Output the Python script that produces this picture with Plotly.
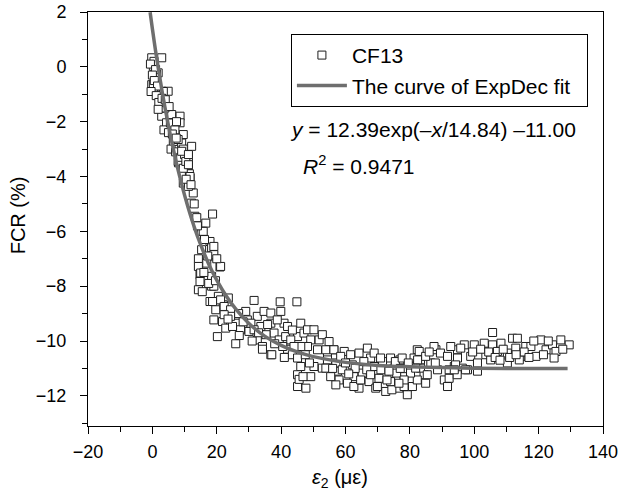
import plotly.graph_objects as go

# ---- CF13 measured points (strain in micro-strain, FCR in %) ----
strain_a = [-0.2, 2.9, 0.3, 1.8, 1.3, -0.2, 0.8, 2.9, 4.9, 2.4, 3.4, 4.4, 2.9, 6.0, 8.6, 4.4, 8.6, 9.6, 6.5, 9.1,
            12.2, 8.1, 11.2, 11.2, 1.3, 0.3, 3.4, 3.9, 6.5, 8.0, 9.6, 11.2, 8.0, 11.2, 11.5, 0.5, -0.6, 1.0, 0.0, 0.6,
            1.6, -0.4, 1.2, 2.0, 3.0, 1.8, 4.0, 5.2, 3.6, 5.0, 5.6, 7.0, 7.5, 6.2, 7.4, 5.8, 7.2, 8.8, 10.0, 9.6, 10.4]
fcr_a = [0.33, 0.33, 0.02, -0.22, -0.46, -0.65, -0.89, -0.89, -0.89, -1.13, -1.44, -1.56, -1.8, -1.74, -1.8, -2.04, -2.04, -2.47, -2.72, -2.78,
         -2.9, -3.5, -3.5, -3.26, -0.26, -0.65, -0.9, -1.5, -2.1, -2.65, -3.0, -3.3, -3.45, -3.6, -3.9, 0.2, 0.1, -0.1, -0.3, -0.5,
         -0.7, -0.9, -1.05, -1.3, -1.15, -1.55, -1.2, -1.45, -2.3, -2.4, -2.05, -2.3, -2.0, -2.45, -2.6, -3.0, -3.1, -3.3, -3.2, -3.7, -3.45]

strain_b = [9.1, 11.2, 11.2, 11.7, 9.6, 12.7, 11.7, 11.2, 12.2, 18.7, 13.2, 16.6, 15.3, 17.9, 18.4, 15.3, 18.9, 14.3, 14.3, 16.9,
            21.0, 14.8, 18.4, 14.8, 14.3, 18.4, 20.5, 23.6, 17.9, 22.0, 13.8, 15.8, 19.1, 19.1, 21.2, 15.0, 19.1, 18.7, 21.2, 10.5,
            12.0, 13.0, 14.0, 16.2, 17.2, 16.0, 17.5, 15.5, 19.6, 20.0]
fcr_b = [-3.08, -3.2, -3.57, -4.05, -4.24, -4.6, -4.0, -4.36, -4.97, -5.37, -5.45, -5.7, -6.0, -6.37, -6.6, -6.67, -6.9, -7.0, -7.28, -7.16,
         -7.3, -7.58, -7.64, -7.83, -8.13, -8.0, -8.37, -8.43, -8.56, -8.68, -5.5, -6.0, -6.55, -6.85, -7.28, -7.52, -8.0, -8.56, -8.5, -4.1,
         -4.3, -5.0, -5.8, -6.3, -6.9, -7.5, -7.9, -8.2, -7.8, -7.0]

strain_c = [19.7, 22.3, 24.3, 19.1, 21.8, 22.8, 25.9, 29.0, 29.5, 27.4, 30.0, 25.9, 32.6, 34.7, 33.7, 32.6, 34.2, 36.8, 36.8, 37.8,
            39.4, 39.9, 40.9, 42.0, 42.0, 43.5, 46.1, 45.1, 47.1, 48.2, 50.2, 49.2, 51.8, 51.3, 48.2, 46.1, 45.1, 46.1, 45.1, 45.1,
            47.7, 45.6, 49.2, 50.2, 52.8, 54.4, 56.4, 57.5, 54.4, 24.9, 24.3, 22.3, 36.8, 30.6, 38.8, 31.6, 35.3, 41.4, 43.0, 31.6,
            39.7, 44.9, 37.1, 34.2, 20.2, 23.5, 26.8, 28.2, 27.0, 31.0, 33.0, 35.8, 38.0, 40.5, 41.0, 44.0, 43.5, 47.5, 46.8, 48.8]
fcr_c = [-8.86, -8.74, -8.86, -9.23, -9.29, -9.53, -9.35, -8.92, -9.23, -9.59, -9.65, -10.1, -9.1, -8.92, -9.47, -9.96, -10.2, -10.5, -9.35, -9.71,
         -9.96, -8.92, -9.35, -9.47, -10.3, -10.5, -9.35, -9.84, -9.71, -9.59, -9.59, -9.96, -9.96, -10.32, -10.2, -10.2, -10.62, -10.93, -11.23, -11.66,
         -11.72, -11.4, -11.3, -10.93, -10.99, -10.8, -10.32, -11.1, -10.5, -9.47, -9.1, -9.04, -8.98, -9.35, -9.23, -9.59, -9.77, -9.84, -9.96, -8.52,
         -8.57, -8.57, -10.5, -10.3, -9.84, -9.2, -9.0, -9.3, -9.8, -10.0, -9.7, -9.4, -10.1, -10.2, -10.6, -10.2, -9.6, -10.5, -11.3, -10.8]

strain_d = [52.8, 54.9, 53.9, 56.4, 54.4, 53.9, 57.0, 59.6, 61.6, 64.2, 59.0, 58.0, 62.1, 62.6, 64.2, 65.2, 67.3, 68.9, 67.8, 69.4,
            71.5, 72.0, 72.5, 74.0, 75.1, 76.6, 78.2, 79.2, 80.8, 80.2, 82.3, 83.3, 84.4, 82.3, 76.9, 74.0, 65.7, 60.6, 55.4, 86.5,
            88.1, 88.6, 58.5, 70.4, 75.9, 62.6, 66.6, 64.7, 81.3, 83.3, 78.2, 74.4, 66.8, 68.9, 70.9, 75.5, 77.6, 80.2, 78.2, 72.9,
            67.8, 69.9, 76.6, 84.9, 85.4, 82.9, 82.4, 81.8, 84.9, 87.5, 89.5, 87.9, 56.0, 60.0, 63.0, 71.0, 73.5, 77.0, 79.5, 61.0,
            57.0, 86.0]
fcr_d = [-9.77, -10.02, -10.32, -10.32, -10.69, -10.99, -10.8, -10.38, -10.5, -10.44, -11.05, -11.42, -10.87, -11.3, -11.72, -11.17, -11.48, -10.93, -10.62, -11.72,
         -10.75, -11.23, -11.84, -11.48, -10.99, -11.72, -11.3, -11.96, -11.66, -10.93, -10.32, -10.69, -11.23, -11.42, -10.69, -10.62, -10.75, -11.54, -11.3, -10.8,
         -10.32, -11.05, -10.56, -11.36, -11.17, -11.66, -11.05, -11.42, -10.62, -10.99, -11.66, -11.78, -10.26, -10.44, -10.62, -10.75, -10.62, -11.17, -11.42, -11.42,
         -11.23, -11.66, -11.54, -11.54, -11.23, -10.38, -10.69, -10.99, -10.56, -10.2, -10.44, -10.8, -11.0, -10.8, -11.0, -11.05, -11.1, -11.0, -10.8, -11.2,
         -11.6, -10.4]

strain_e = [91.7, 90.7, 93.8, 94.8, 96.9, 100.0, 98.9, 97.9, 101.0, 92.7, 92.2, 92.2, 91.7, 94.8, 95.8, 96.3, 103.1, 103.6, 105.7, 107.2,
            108.3, 110.3, 111.9, 113.4, 112.9, 114.5, 116.0, 117.6, 120.7, 122.3, 124.3, 126.9, 129.5, 125.4, 119.2, 110.3, 105.1, 101.0, 94.2, 105.7,
            114.0, 124.8, 94.7, 97.3, 93.8, 99.5, 102.0, 104.5, 106.5, 109.0, 111.0, 115.5, 118.5, 121.5, 123.0, 127.5, 108.0, 113.0, 117.0]
fcr_e = [-10.56, -11.42, -10.93, -10.32, -10.14, -10.14, -10.56, -11.05, -11.1, -10.2, -11.05, -11.36, -11.66, -10.62, -10.26, -10.99, -10.08, -10.5, -10.14, -10.38,
         -10.08, -10.44, -9.9, -9.9, -10.26, -10.56, -10.2, -10.2, -9.96, -10.32, -10.14, -9.96, -10.14, -10.38, -10.56, -10.8, -10.69, -10.8, -10.87, -9.69,
         -10.69, -10.62, -11.23, -11.05, -11.05, -10.4, -10.3, -10.4, -10.6, -10.3, -10.6, -10.4, -10.0, -10.5, -10.0, -10.3, -10.7, -10.5, -10.6]

# ---- ExpDec fit curve ----
fit_strain = [-0.7, 0, 1, 2, 3, 4, 5, 6, 7, 8, 10, 12, 14, 16, 18, 20, 23, 26, 30, 35, 40, 45, 50, 60, 70, 80, 90, 100, 110, 120, 129]
fit_fcr = [1.99, 1.39, 0.58, -0.17, -0.88, -1.54, -2.15, -2.73, -3.27, -3.77, -4.68, -5.48, -6.18, -6.78, -7.32, -7.78, -8.37, -8.85,
           -9.36, -9.83, -10.16, -10.40, -10.57, -10.78, -10.89, -10.94, -10.97, -10.99, -11.0, -11.0, -11.0]

x_ticks = [-20, 0, 20, 40, 60, 80, 100, 120, 140]
y_ticks = [-12, -10, -8, -6, -4, -2, 0, 2]

pts_x = strain_a + strain_b + strain_c + strain_d + strain_e
pts_y = fcr_a + fcr_b + fcr_c + fcr_d + fcr_e

FONT = "Liberation Sans, Arial, Helvetica, sans-serif"

fig = go.Figure()
fig.add_trace(go.Scatter(
    x=pts_x, y=pts_y, mode="markers", name="CF13",
    marker=dict(symbol="square", size=8, color="white",
                line=dict(color="#1e1e1e", width=1)),
))
fig.add_trace(go.Scatter(
    x=fit_strain, y=fit_fcr, mode="lines", name="The curve of ExpDec fit\u00a0\u00a0",
    line=dict(color="#6e6e6e", width=3.5, shape="spline"),
))

axis_common = dict(
    showline=True, linecolor="black", linewidth=1, mirror=True,
    ticks="outside", ticklen=7, tickwidth=1, tickcolor="black",
    showgrid=False, zeroline=False, automargin=False,
    tickfont=dict(family=FONT, size=18, color="black"),
)
fig.update_xaxes(range=[-20, 140], tickvals=x_ticks, ticklabelstandoff=2,
                 minor=dict(ticks="outside", ticklen=5, dtick=10, tick0=0,
                            tickcolor="black", showgrid=False),
                 **axis_common)
fig.update_yaxes(range=[-13.1, 2.0], tickvals=y_ticks, ticklabelstandoff=10,
                 minor=dict(ticks="outside", ticklen=5, dtick=1, tick0=0,
                            tickcolor="black", showgrid=False),
                 **axis_common)

fig.update_layout(
    width=640, height=492,
    margin=dict(l=88, r=37, t=12, b=66, autoexpand=False),
    plot_bgcolor="white", paper_bgcolor="white",
    font=dict(family=FONT, size=20, color="black"),
    legend=dict(x=0.394, y=0.947, xanchor="left", yanchor="top",
                bordercolor="black", borderwidth=1, bgcolor="white",
                font=dict(family=FONT, size=21, color="black"),
                itemwidth=50, tracegroupgap=0),
    annotations=[
        dict(text="FCR (%)", x=-0.137, y=0.51, xref="paper", yref="paper",
             xanchor="center", yanchor="middle",
             textangle=-90, showarrow=False, font=dict(size=20)),
        dict(text="<i>ε</i><sub>2</sub> (με)", x=0.489, y=-0.126, xref="paper", yref="paper",
             xanchor="center", yanchor="middle", showarrow=False, font=dict(size=20)),
        dict(text="<i>y</i> = 12.39exp(–<i>x</i>/14.84) –11.00", x=0.388, y=0.715,
             xref="paper", yref="paper", xanchor="left", yanchor="middle",
             showarrow=False, font=dict(size=21)),
        dict(text="<i>R</i><sup>2</sup> = 0.9471", x=0.413, y=0.630,
             xref="paper", yref="paper", xanchor="left", yanchor="middle",
             showarrow=False, font=dict(size=21)),
    ],
)

fig.write_html("out.html")
